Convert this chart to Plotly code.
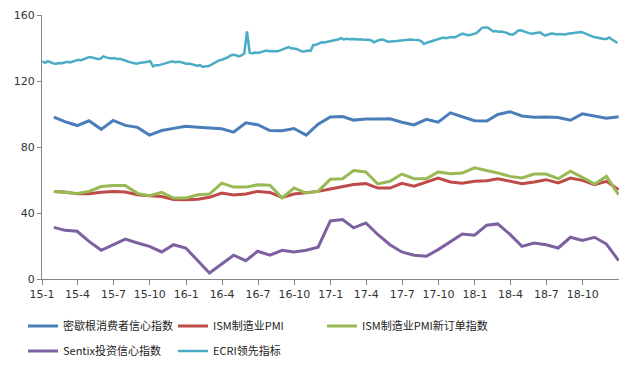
import pandas as pd
import plotly.graph_objects as go

# ---- data ----
month_start = "2015-01-31"
michigan = [98.1, 95.4, 93.0, 95.9, 90.7, 96.1, 93.1, 91.9, 87.2, 90.0, 91.3, 92.6,
            92.0, 91.7, 91.0, 89.0, 94.7, 93.5, 90.0, 89.8, 91.2, 87.2, 93.8, 98.2,
            98.5, 96.3, 96.9, 97.0, 97.1, 95.0, 93.4, 96.8, 95.1, 100.7, 98.5, 95.9,
            95.7, 99.7, 101.4, 98.8, 98.0, 98.2, 97.9, 96.2, 100.1, 98.6, 97.5, 98.3]
ism_pmi = [53.1, 52.7, 51.6, 51.6, 52.6, 53.1, 52.7, 51.1, 50.5, 50.0, 48.2, 48.0,
           48.3, 49.5, 52.1, 50.9, 51.5, 53.1, 52.5, 49.5, 51.5, 52.1, 53.1, 54.5,
           56.1, 57.3, 57.8, 55.1, 55.1, 58.0, 56.3, 58.8, 61.2, 58.8, 58.1, 59.3,
           59.6, 60.8, 59.2, 57.8, 58.8, 60.2, 58.2, 61.2, 59.8, 57.2, 59.2, 54.1]
ism_new_orders = [53.1, 52.7, 51.9, 53.1, 56.0, 56.6, 56.6, 51.9, 50.5, 52.5, 49.1, 49.1,
                  51.1, 51.5, 58.1, 55.7, 55.7, 57.1, 56.9, 49.1, 55.1, 52.1, 53.1, 60.4,
                  60.8, 65.7, 64.9, 57.6, 59.2, 63.6, 60.8, 60.8, 64.9, 63.8, 64.2, 67.4,
                  65.8, 64.2, 62.2, 61.2, 63.6, 63.6, 60.8, 65.3, 61.6, 57.6, 62.2, 51.1]
sentix = [31.3, 29.5, 28.9, 22.8, 17.4, 20.8, 24.2, 21.8, 19.8, 16.4, 20.8, 18.8,
          10.7, 3.6, 9.1, 14.4, 11.1, 16.8, 14.4, 17.4, 16.4, 17.4, 19.3, 35.2,
          36.0, 31.0, 34.0, 27.0, 20.8, 16.4, 14.4, 13.8, 17.8, 22.8, 27.3, 26.5,
          32.6, 33.4, 27.0, 19.8, 21.8, 20.8, 18.8, 25.3, 23.3, 25.3, 21.2, 11.1]

ecri_start = "2015-01-02"
ecri = [
    # 2015
    131.9, 131.0, 132.0, 131.2, 130.6, 130.5, 130.9, 130.8, 131.3, 131.7,
    131.2, 131.9, 132.3, 132.9, 132.6, 133.1, 134.0, 134.5, 134.2, 133.8,
    133.4, 133.5, 134.9, 134.3, 134.0, 133.6, 133.9, 133.4, 133.5, 132.8,
    132.2, 131.8, 131.3, 130.7, 130.5, 130.9, 131.0, 131.4, 131.7, 132.0,
    128.9, 129.6, 129.5, 130.0, 130.4, 130.9, 131.5, 131.9, 131.4, 131.7,
    131.5, 130.8,
    # 2016
    130.5, 130.6, 130.2, 129.7, 129.3, 129.6, 128.5, 128.9, 129.0, 129.8,
    130.9, 131.9, 132.6, 132.9, 133.5, 134.3, 135.5, 135.9, 135.6, 134.9,
    135.5, 136.6, 150.0, 137.0, 136.8, 137.2, 137.0, 137.6, 138.2, 138.5,
    138.0, 138.1, 137.9, 138.0, 138.6, 139.4, 140.2, 140.6, 139.8, 139.8,
    139.4, 138.6, 137.9, 138.0, 138.5, 138.3, 141.8, 142.0, 142.8, 143.4,
    143.3, 143.8,
    # 2017
    144.2, 144.6, 144.9, 145.1, 146.0, 145.2, 145.6, 145.3, 145.5, 145.4,
    145.1, 145.3, 145.0, 145.2, 145.0, 144.6, 143.4, 144.3, 145.0, 145.2,
    144.6, 143.8, 144.0, 144.3, 144.2, 144.4, 144.7, 145.0, 145.1, 145.2,
    145.0, 144.9, 144.8, 144.2, 142.4, 143.2, 143.8, 144.4, 144.9, 145.6,
    146.0, 146.4, 145.9, 146.2, 146.6, 146.4, 147.1, 148.0, 148.7, 148.2,
    147.8, 148.0,
    # 2018
    148.4, 149.0, 150.6, 152.2, 152.5, 152.5, 151.3, 150.0, 150.3, 149.8,
    150.0, 149.8, 149.2, 148.3, 148.0, 149.0, 150.5, 150.7, 150.0, 149.6,
    149.0, 148.7, 148.9, 149.3, 149.5, 148.2, 147.5, 148.2, 148.8, 148.6,
    148.2, 148.5, 148.3, 148.2, 148.6, 148.9, 148.9, 149.2, 149.5, 149.7,
    149.0, 148.2, 147.4, 146.9, 146.5, 146.0, 145.6, 145.4, 145.5, 146.4,
    145.2, 144.3, 143.0,
]

names = ["密歇根消费者信心指数", "ISM制造业PMI", "ISM制造业PMI新订单指数",
         "Sentix投资信心指数", "ECRI领先指标"]
colors = ["#4A7EBB", "#BE4B48", "#98B954", "#7D60A0", "#4BACC6"]

months = pd.date_range(month_start, periods=len(michigan), freq=pd.offsets.MonthEnd())
weeks = pd.date_range(ecri_start, periods=len(ecri), freq="7D")

legend_ids = ["legend", "legend2", "legend3", "legend4", "legend5"]
# legend placement (container fractions): x of each entry, y of each row
legend_pos = [(0.0363, 0.1115), (0.2733, 0.1115), (0.5087, 0.1115),
              (0.0363, 0.0435), (0.2733, 0.0435)]

fig = go.Figure()
series = [(michigan, months, 0, 3), (ism_pmi, months, 1, 3),
          (ism_new_orders, months, 2, 3), (sentix, months, 3, 3)]
for vals, xs, i, w in series:
    fig.add_trace(go.Scatter(x=xs, y=vals, mode="lines", name=names[i],
                             line=dict(color=colors[i], width=w), legend=legend_ids[i]))
fig.add_trace(go.Scatter(x=weeks, y=ecri, mode="lines", name=names[4],
                         line=dict(color=colors[4], width=2.5), legend=legend_ids[4]))

axis_color = "#868686"
font_family = "DejaVu Sans, Noto Sans CJK SC, sans-serif"
layout_legends = {}
for lid, (lx, ly) in zip(legend_ids, legend_pos):
    layout_legends[lid] = dict(
        orientation="h", xref="container", yref="container",
        x=lx, y=ly, xanchor="left", yanchor="middle",
        bgcolor="rgba(0,0,0,0)",
        font=dict(family="Noto Sans CJK SC, sans-serif", size=11, color="#222"))

fig.update_layout(
    width=633, height=367,
    margin=dict(l=42, r=14, t=15, b=88, autoexpand=False),
    plot_bgcolor="white", paper_bgcolor="white",
    font=dict(family=font_family, size=11, color="#333333"),
    showlegend=True,
    **layout_legends,
)
fig.update_xaxes(type="date", range=["2015-01-01", "2018-12-31T20:00"],
                 tick0="2015-01-01", dtick="M3", tickformat="%y-%-m",
                 showline=True, linecolor=axis_color, linewidth=1,
                 ticks="outside", ticklen=5, tickcolor=axis_color,
                 showgrid=False, zeroline=False)
fig.update_yaxes(range=[0, 160], dtick=40, showline=True, linecolor=axis_color,
                 linewidth=1, ticks="outside", ticklen=4, tickcolor=axis_color,
                 showgrid=False, zeroline=False)

fig.write_html("out.html", config={"displayModeBar": False},
               post_script="document.body.style.margin='0';")
